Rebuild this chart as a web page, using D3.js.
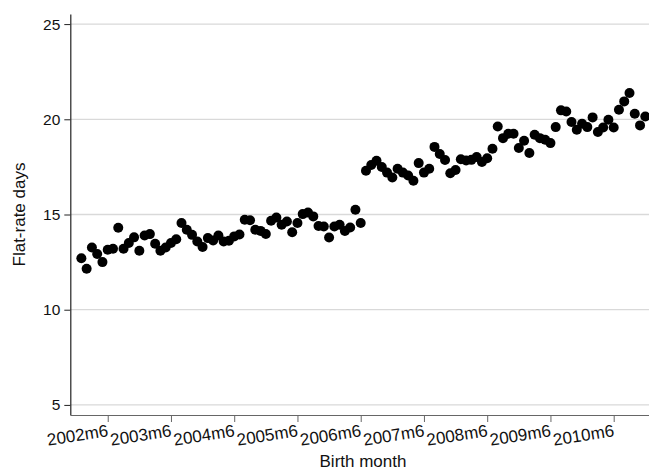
<!DOCTYPE html>
<html>
<head>
<meta charset="utf-8">
<script src="https://cdn.jsdelivr.net/npm/d3@7"></script>
<style>
  body { margin: 0; background: #fff; }
  text { font-family: "Liberation Sans", Arial, sans-serif; }
</style>
</head>
<body>
<script>
// monthly means, 2002m1 .. 2010m12
let startYear = 2002
let flatRateDays = [
  12.7, 12.15, 13.27, 12.93, 12.5, 13.15, 13.2, 14.3, 13.2, 13.5, 13.8, 13.1,
  13.9, 13.97, 13.46, 13.1, 13.27, 13.5, 13.7, 14.55, 14.2, 13.93, 13.58, 13.29,
  13.76, 13.63, 13.9, 13.58, 13.62, 13.85, 13.95, 14.72, 14.7, 14.2, 14.14, 13.98,
  14.67, 14.84, 14.46, 14.63, 14.07, 14.55, 15.02, 15.1, 14.9, 14.4, 14.37, 13.79,
  14.37, 14.46, 14.14, 14.32, 15.25, 14.55, 17.3, 17.6, 17.82, 17.49, 17.2, 16.94,
  17.4, 17.2, 17.05, 16.77, 17.7, 17.2, 17.4, 18.55, 18.18, 17.86, 17.17, 17.34,
  17.9, 17.84, 17.87, 18.02, 17.76, 17.95, 18.45, 19.62, 19.01, 19.24, 19.24, 18.49,
  18.87, 18.23, 19.19, 19.01, 18.93, 18.75, 19.59, 20.47, 20.41, 19.86, 19.45, 19.77,
  19.59, 20.1, 19.33, 19.57, 19.98, 19.57, 20.5, 20.94, 21.38, 20.29, 19.68, 20.15
]
let xTickLabels = ["2002m6", "2003m6", "2004m6", "2005m6", "2006m6", "2007m6", "2008m6", "2009m6", "2010m6"]
let yTicks = [5, 10, 15, 20, 25]

let width = 649
let height = 473
let margin = { top: 14, right: 0, bottom: 58, left: 70.3 }

let monthIndex = (label) => {
  let parts = label.split("m")
  return (+parts[0] - startYear) * 12 + (+parts[1] - 1)
}

let data = flatRateDays.map((v, i) => ({ m: i, v: v }))

let x = d3.scaleLinear()
  .domain([-2.1, 107.7])
  .range([margin.left, width - margin.right])

let y = d3.scaleLinear()
  .domain([4.47, 25.53])
  .range([height - margin.bottom, margin.top])

let svg = d3.select("body").append("svg")
  .attr("width", width)
  .attr("height", height)

// gridlines
svg.append("g")
  .selectAll("line")
  .data(yTicks)
  .enter().append("line")
  .attr("x1", margin.left)
  .attr("x2", width - margin.right)
  .attr("y1", d => y(d))
  .attr("y2", d => y(d))
  .attr("stroke", "#d9d9d9")
  .attr("stroke-width", 1.3)

// y axis
let yAxis = svg.append("g")
  .attr("transform", "translate(" + margin.left + ",0)")
  .call(d3.axisLeft(y).tickValues(yTicks).tickSize(6).tickPadding(4).tickSizeOuter(0))
yAxis.select(".domain").attr("stroke", "#222").attr("stroke-width", 1.2)
yAxis.selectAll(".tick line").attr("stroke", "#222")
yAxis.selectAll(".tick text")
  .attr("font-size", 15.5)
  .attr("fill", "#111")
  .attr("font-family", "Liberation Sans, Arial, sans-serif")

// x axis
let xAxis = svg.append("g")
  .attr("transform", "translate(0," + (height - margin.bottom) + ")")
  .call(d3.axisBottom(x).tickValues(xTickLabels.map(monthIndex)).tickSize(7).tickSizeOuter(0).tickFormat(""))
xAxis.select(".domain").attr("stroke", "#666").attr("stroke-width", 1.2)
xAxis.selectAll(".tick line").attr("stroke", "#666")

svg.append("g")
  .selectAll("text")
  .data(xTickLabels)
  .enter().append("text")
  .attr("transform", d => "translate(" + (x(monthIndex(d)) - 1) + "," + (height - margin.bottom + 8) + ") rotate(-9)")
  .attr("text-anchor", "end")
  .attr("dy", "0.78em")
  .attr("font-size", 17)
  .attr("fill", "#111")
  .text(d => d)

// axis titles
svg.append("text")
  .attr("x", 363)
  .attr("y", 466.5)
  .attr("text-anchor", "middle")
  .attr("font-size", 17)
  .attr("fill", "#111")
  .text("Birth month")

svg.append("text")
  .attr("transform", "translate(25," + y(15) + ") rotate(-90)")
  .attr("text-anchor", "middle")
  .attr("font-size", 17)
  .attr("fill", "#111")
  .text("Flat-rate days")

// points
svg.append("g")
  .selectAll("circle")
  .data(data)
  .enter().append("circle")
  .attr("cx", d => x(d.m))
  .attr("cy", d => y(d.v))
  .attr("r", 5)
  .attr("fill", "#000")
</script>
</body>
</html>
